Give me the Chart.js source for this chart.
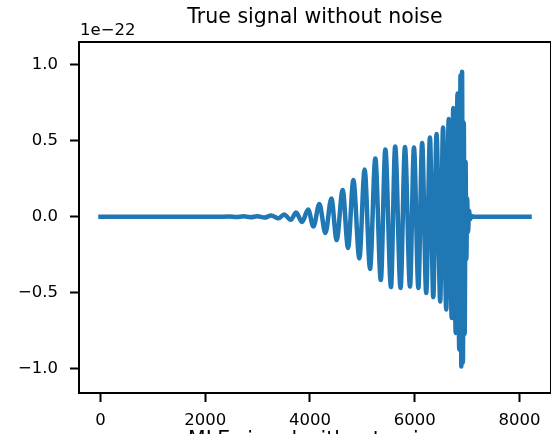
<!DOCTYPE html>
<html>
<head>
<meta charset="utf-8">
<script src="https://cdn.jsdelivr.net/npm/chart.js@4.4.0/dist/chart.umd.min.js"></script>
<style>
  body { margin: 0; background: #fff; }
</style>
</head>
<body>
<canvas id="signalChart" width="551" height="434"></canvas>
<script>
// sample index of each turning point of the waveform
const sampleIndex = [0, 2200, 2463, 2597, 2730, 2864, 2997, 3131, 3258, 3403, 3506, 3632, 3735, 3849, 3964, 4065,
  4179, 4294, 4408, 4509, 4624, 4726, 4828, 4942, 5043, 5146, 5247, 5352, 5438, 5546, 5626, 5729, 5813, 5909,
  5985, 6069, 6141, 6219, 6290, 6353, 6416, 6486, 6540, 6601, 6648, 6706, 6734, 6782, 6816, 6849, 6874, 6889,
  6903, 6919, 6936, 6953, 6970, 6985, 7000, 7018, 7035, 7058, 7087, 7135, 8191];

// strain in units of 1e-22
const strain = [0, 0, 0.002, -0.002, 0.003, -0.003, 0.004, -0.005, 0.008, -0.010, 0.016, -0.020, 0.028, -0.034, 0.048, -0.064,
  0.084, -0.107, 0.120, -0.153, 0.176, -0.205, 0.242, -0.274, 0.311, -0.343, 0.384, -0.416, 0.443, -0.462, 0.463, -0.468, 0.459, -0.459,
  0.456, -0.468, 0.486, -0.501, 0.522, -0.528, 0.545, -0.557, 0.588, -0.610, 0.643, -0.666, 0.716, -0.764, 0.811, -0.873, 0.930, -0.985,
  0.955, -0.960, 0.620, -0.770, 0.360, -0.280, 0.120, -0.100, 0.040, -0.015, 0.005, 0, 0];

const xTicks = [0, 2000, 4000, 6000, 8000];
const yTicks = [-1.0, -0.5, 0.0, 0.5, 1.0];

const titleText = 'True signal without noise';
const offsetText = '1e\u221222';
const nextTitleText = 'MLE signal without noise';

const fontFamily = '"DejaVu Sans", sans-serif';

// frame round the axes, the offset label and the next panel's title peeking in at the bottom
const extras = {
    id: 'extras',
    afterDraw(chart) {
        const ctx = chart.ctx;
        const a = chart.chartArea;
        ctx.save();
        ctx.strokeStyle = '#000';
        ctx.lineWidth = 2;
        ctx.strokeRect(a.left, a.top, a.right - a.left, a.bottom - a.top);
        ctx.fillStyle = '#000';
        ctx.font = '16.5px ' + fontFamily;
        ctx.textAlign = 'left';
        ctx.textBaseline = 'alphabetic';
        ctx.fillText(offsetText, a.left + 1, 35);
        ctx.font = '20.5px ' + fontFamily;
        ctx.textAlign = 'center';
        ctx.fillText(nextTitleText, (a.left + a.right) / 2, 446);
        ctx.restore();
    }
};

const data = {
    datasets: [{
        data: sampleIndex.map((x, i) => ({ x: x, y: strain[i] })),
        borderColor: '#1f77b4',
        backgroundColor: '#1f77b4',
        borderWidth: 4.5,
        pointRadius: 0,
        cubicInterpolationMode: 'monotone',
        borderCapStyle: 'square',
        borderJoinStyle: 'round',
        fill: false
    }]
};

const config = {
    type: 'line',
    data: data,
    options: {
        responsive: false,
        animation: false,
        devicePixelRatio: 1,
        layout: { padding: { left: 18, right: -1, top: 0, bottom: 3 } },
        plugins: {
            legend: { display: false },
            tooltip: { enabled: false },
            title: {
                display: true,
                text: titleText,
                fullSize: false,
                color: '#000',
                font: { family: fontFamily, size: 20.5, weight: 'normal', lineHeight: 1.2 },
                padding: { top: 5, bottom: 12.4 }
            }
        },
        scales: {
            x: {
                type: 'linear',
                min: -410,
                max: 8601,
                afterBuildTicks: s => { s.ticks = xTicks.map(v => ({ value: v })); },
                afterFit: s => { s.height = 38; },
                ticks: {
                    color: '#000',
                    padding: 9,
                    maxRotation: 0,
                    font: { family: fontFamily, size: 16.5 },
                    callback: v => String(v)
                },
                grid: {
                    drawOnChartArea: false,
                    drawTicks: true,
                    tickLength: 9,
                    tickWidth: 2,
                    tickColor: '#000'
                },
                border: { display: false }
            },
            y: {
                type: 'linear',
                min: -1.159,
                max: 1.150,
                afterBuildTicks: s => { s.ticks = yTicks.map(v => ({ value: v })); },
                afterFit: s => { s.width = 61; },
                ticks: {
                    color: '#000',
                    padding: 12,
                    font: { family: fontFamily, size: 16.5 },
                    callback: v => v.toFixed(1).replace('-', '\u2212')
                },
                grid: {
                    drawOnChartArea: false,
                    drawTicks: true,
                    tickLength: 9,
                    tickWidth: 2,
                    tickColor: '#000'
                },
                border: { display: false }
            }
        }
    },
    plugins: [extras]
};

const signalChart = new Chart(document.getElementById('signalChart'), config);
</script>
</body>
</html>
